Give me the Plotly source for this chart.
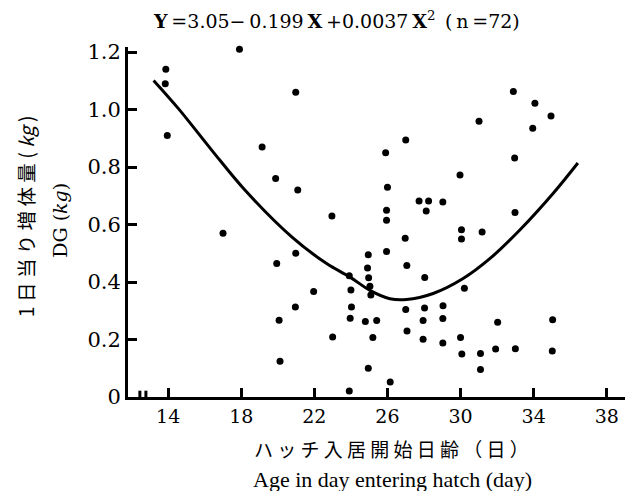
import plotly.graph_objects as go

# ---- data ----
age_days = [17.9, 13.87, 13.84, 20.98, 13.95, 19.14, 19.88, 21.09, 22.96, 25.9,
            26.0, 25.95, 25.95, 17.0, 25.95, 20.98, 19.94, 24.95, 24.91, 23.91,
            24.97, 21.96, 24.0, 25.04, 25.09, 20.96, 24.03, 23.96, 20.07, 24.79,
            25.41, 23.0, 25.2, 20.12, 24.95, 23.91, 26.15, 32.89, 34.07, 34.95,
            33.95, 31.01, 27.0, 32.96, 29.97, 27.73, 28.25, 28.12, 29.03, 32.98,
            30.05, 30.05, 31.18, 26.97, 27.06, 28.04, 30.21, 27.0, 28.03, 29.04,
            27.95, 29.03, 27.07, 27.95, 29.03, 30.0, 32.03, 35.04, 30.07, 31.09,
            31.92, 33.0, 35.02, 31.09]
daily_gain = [1.21, 1.14, 1.09, 1.06, 0.91, 0.87, 0.76, 0.72, 0.63, 0.85,
              0.73, 0.65, 0.615, 0.57, 0.506, 0.50, 0.464, 0.495, 0.449, 0.422,
              0.415, 0.367, 0.372, 0.385, 0.355, 0.313, 0.313, 0.274, 0.267, 0.263,
              0.266, 0.209, 0.207, 0.124, 0.100, 0.021, 0.052, 1.063, 1.022, 0.977,
              0.935, 0.959, 0.894, 0.831, 0.772, 0.682, 0.682, 0.647, 0.678, 0.642,
              0.582, 0.550, 0.574, 0.552, 0.457, 0.416, 0.378, 0.304, 0.310, 0.317,
              0.266, 0.273, 0.230, 0.201, 0.188, 0.207, 0.260, 0.269, 0.150, 0.151,
              0.167, 0.168, 0.160, 0.096]

curve_x = [13.2, 14.56, 16.39, 18.21, 20.76, 22.67, 23.95, 25.04, 26.13, 27.04,
           28.5, 30.14, 31.6, 33.23, 35.05, 36.42]
curve_y = [1.101, 1.003, 0.858, 0.719, 0.557, 0.464, 0.417, 0.371, 0.342, 0.339,
           0.360, 0.412, 0.481, 0.580, 0.707, 0.814]

x_ticks = [14, 18, 22, 26, 30, 34, 38]
y_ticks = [0, 0.2, 0.4, 0.6, 0.8, 1.0, 1.2]
y_tick_text = ["0", "0.2", "0.4", "0.6", "0.8", "1.0", "1.2"]

title_text = ("<b>Y</b>\u2009=3.05\u2212\u20090.199\u2009<b>X</b>\u2009+0.0037\u2009<b>X</b>"
              "<sup>2</sup>\u2002(\u2009n\u2009=72)")
y_title_jp = "1 日 当 り 増 体 量 ( <i>kg</i> )"
y_title_en = "DG (<i>kg</i>)"
x_title_jp = "ハ ッ チ 入 居 開 始 日 齢 （ 日 ）"
x_title_en = "Age in day entering hatch (day)"

X_RANGE = [11.8, 39.0]
Y_RANGE = [0, 1.2174]

fig = go.Figure()
fig.add_trace(go.Scatter(x=curve_x, y=curve_y, mode="lines",
                         line=dict(color="black", width=3, shape="spline"),
                         hoverinfo="skip", cliponaxis=False))
fig.add_trace(go.Scatter(x=age_days, y=daily_gain, mode="markers",
                         marker=dict(color="black", size=7),
                         cliponaxis=False))

L, R, T, B = 128, 4, 47, 94
fig.update_layout(
    width=629, height=491,
    margin=dict(l=L, r=R, t=T, b=B, pad=0),
    paper_bgcolor="white", plot_bgcolor="white",
    showlegend=False,
    font=dict(family="DejaVu Serif", color="black"),
)
fig.update_xaxes(range=X_RANGE, tickmode="array", tickvals=x_ticks,
                 ticks="inside", ticklen=9, tickwidth=3, tickcolor="#000000",
                 showticklabels=True,
                 showline=True, linewidth=3, linecolor="black",
                 showgrid=False, zeroline=False,
                 tickfont=dict(family="DejaVu Serif", size=19, color="black"))
fig.update_yaxes(range=Y_RANGE, tickmode="array", tickvals=y_ticks,
                 ticktext=y_tick_text,
                 ticks="inside", ticklen=9, tickwidth=3, tickcolor="#000000",
                 showticklabels=True,
                 showline=True, linewidth=3, linecolor="black",
                 showgrid=False, zeroline=False,
                 tickfont=dict(family="DejaVu Serif", size=21, color="black"))

# axis break marks
fig.add_shape(type="rect", xref="x", yref="y", x0=12.3, x1=12.95, y0=-0.01, y1=0.01,
              fillcolor="white", line=dict(width=0), layer="above")
for bx in [12.45, 12.78]:
    fig.add_shape(type="line", xref="x", yref="y", x0=bx, x1=bx, y0=-0.022, y1=0.022,
                  line=dict(color="black", width=3), layer="above")

ann_common = dict(xref="paper", yref="paper", showarrow=False,
                  xanchor="center", yanchor="middle")
fig.add_annotation(text=title_text, x=0.42, y=1.077,
                   font=dict(family="DejaVu Serif", size=19, color="black"), **ann_common)
fig.add_annotation(text=y_title_jp, x=-0.207, y=0.517, textangle=-90,
                   font=dict(family="Noto Sans CJK JP", size=19.5, color="black"), **ann_common)
fig.add_annotation(text=y_title_en, x=-0.137, y=0.506, textangle=-90,
                   font=dict(family="DejaVu Serif", size=19, color="black"), **ann_common)
fig.add_annotation(text=x_title_jp, x=0.53, y=-0.146,
                   font=dict(family="Noto Sans CJK JP", size=19, color="black"), **ann_common)
fig.add_annotation(text=x_title_en, x=0.533, y=-0.237,
                   font=dict(family="Liberation Serif", size=22, color="black"), **ann_common)

fig.write_html("out.html")
